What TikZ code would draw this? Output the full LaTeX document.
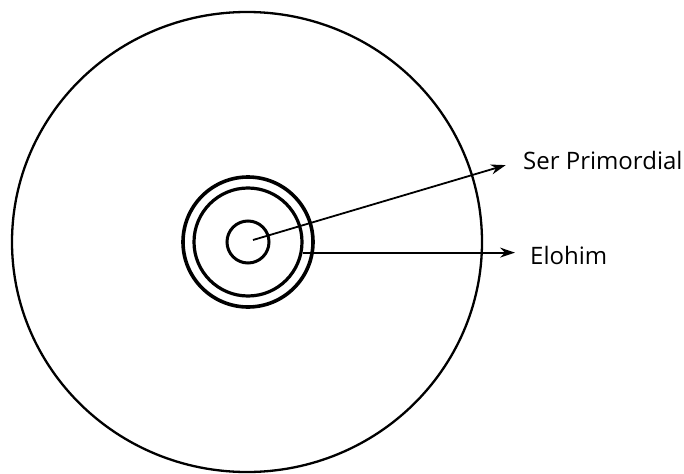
\documentclass[tikz,border=0pt]{standalone}
\usepackage{fontspec}
\setmainfont{Open Sans}
\usetikzlibrary{arrows.meta}
\tikzset{
  anillo/.style={draw, circle, inner sep=0pt},
  flecha/.style={-{Stealth[length=15pt,width=10pt]}, line width=1.8pt},
  etiqueta/.style={anchor=west, inner sep=0pt, font=\fontsize{24}{28}\selectfont},
}

\begin{document}
\begin{tikzpicture}[x=1pt, y=-1pt]
  \useasboundingbox (0,0) rectangle (684,473);
  % circulo exterior
  \draw[line width=2.3pt] (247,242) ellipse [x radius=235, y radius=230];
  % anillos y nucleo
  \coordinate (centro) at (248,242);
  \node[anillo, line width=3.6pt, minimum size=130pt] (anilloext) at (centro) {};
  \node[anillo, line width=3.2pt, minimum size=108pt] (anilloint) at (centro) {};
  \node[anillo, line width=3pt, minimum size=42pt] (nucleo) at (centro) {};
  \coordinate (origen) at (253,240);
  % etiquetas
  \node[etiqueta] (ser) at (523,160) {Ser Primordial};
  \node[etiqueta] (elohim) at (530,255) {Elohim};
  % flechas
  \draw[flecha, shorten >=18pt] (origen) -- (ser.west);
  \draw[flecha, shorten >=15pt] (anilloint.-11) -- (anilloint.-11 -| elohim.west);
\end{tikzpicture}
\end{document}
